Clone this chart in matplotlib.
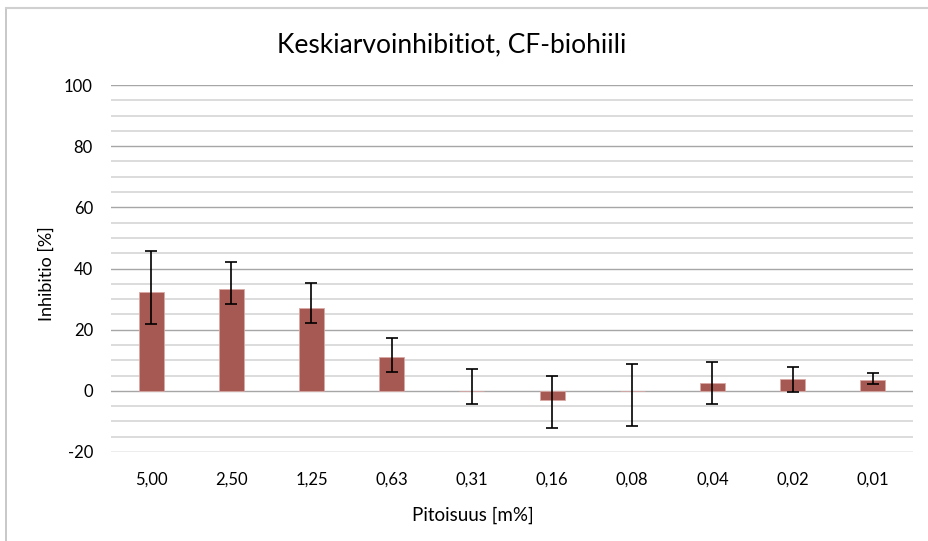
import matplotlib
matplotlib.use("Agg")
import matplotlib.pyplot as plt
from matplotlib.lines import Line2D
import numpy as np

plt.rcParams['font.family'] = ['Lato', 'DejaVu Sans']
plt.rcParams['axes.unicode_minus'] = False

# Pitoisuudet ja keskiarvoinhibitiot
categories = ["5,00", "2,50", "1,25", "0,63", "0,31", "0,16", "0,08", "0,04", "0,02", "0,01"]
inhibition = [32.4, 33.2, 27.0, 10.9, 0.0, -3.0, 0.0, 2.7, 3.8, 3.7]
err_upper = [13.4, 9.0, 8.1, 6.4, 7.3, 8.0, 8.8, 6.8, 4.0, 2.0]
err_lower = [10.5, 4.7, 4.8, 4.8, 4.3, 9.3, 11.4, 7.0, 4.1, 1.6]

W, H = 929, 541
fig = plt.figure(figsize=(W / 100, H / 100), dpi=100)

# kaavioalueen reunus (ylä- ja vasen reuna)
fig.add_artist(Line2D([6 / W, 6 / W], [0, 1 - 8 / H], color='#bfbfbf', lw=1.2))
fig.add_artist(Line2D([6 / W, 1], [1 - 8 / H, 1 - 8 / H], color='#d0d0d0', lw=1.5))

left, right, top, bottom = 111, 913, 85, 452
ax = fig.add_axes([left / W, 1 - bottom / H, (right - left) / W, (bottom - top) / H])

x = np.arange(len(categories))
ax.set_xlim(-0.5, len(categories) - 0.5)
ax.set_ylim(-20, 100)

for v in np.arange(-20, 101, 5):
    major = v % 20 == 0
    ax.axhline(v, color='#a6a6a6' if major else '#d9d9d9', lw=1.0 if major else 1.3, zorder=0)

ax.bar(x, inhibition, width=0.31, color='#a65852', edgecolor='#d8a8a4', linewidth=0.6, zorder=2)
ax.errorbar(x, inhibition, yerr=[err_lower, err_upper], fmt='none', ecolor='black',
            elinewidth=1.2, capsize=4.5, capthick=1.2, zorder=3)

for s in ax.spines.values():
    s.set_visible(False)
ax.set_yticks(np.arange(-20, 101, 20))
ax.tick_params(axis='both', length=0, labelsize=12, colors='#000000')
ax.tick_params(axis='y', pad=13)
ax.tick_params(axis='x', pad=14)
ax.set_xticks(x)
ax.set_xticklabels(categories)

fig.text(47 / W, 1 - 274 / H, "Inhibitio [%]", fontsize=13, rotation=90,
         ha='center', va='center')
fig.text(473 / W, 1 - 515 / H, "Pitoisuus [m%]", fontsize=13.5,
         ha='center', va='center')
fig.text(452 / W, 1 - 45 / H, "Keskiarvoinhibitiot, CF-biohiili", fontsize=19,
         ha='center', va='center')

fig.savefig("out.png", dpi=100)
